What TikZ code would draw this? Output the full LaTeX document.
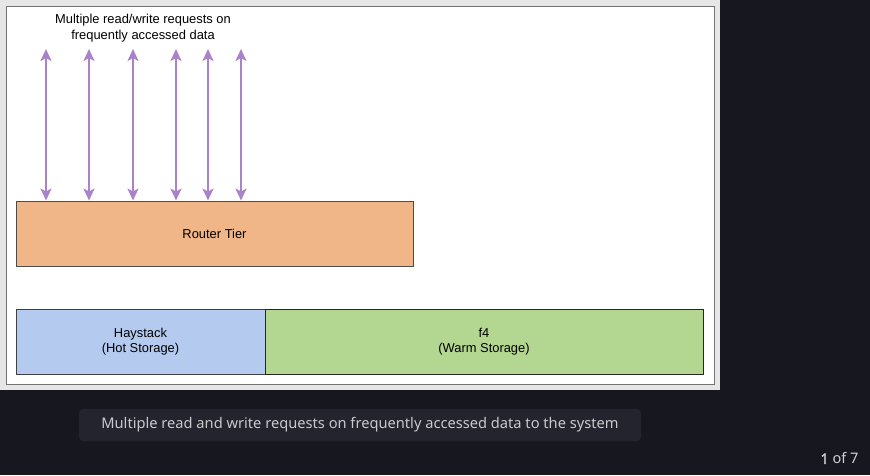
\documentclass[tikz,border=0pt]{standalone}
\usepackage{fontspec}
\setmainfont{Liberation Sans}
\newfontfamily\capfont{Noto Sans}
\newfontfamily\capbold{Noto Sans}[FakeBold=2]
\usetikzlibrary{arrows.meta}
\definecolor{darkbg}{HTML}{17171F}
\definecolor{capbg}{HTML}{23242E}
\definecolor{captext}{HTML}{C9C9CE}
\definecolor{panelgrey}{HTML}{E6E6E6}
\definecolor{routerfill}{HTML}{F0B687}
\definecolor{hotfill}{HTML}{B4CBEF}
\definecolor{warmfill}{HTML}{B3D690}
\definecolor{arrowpurple}{HTML}{A982C9}
\begin{document}
\begin{tikzpicture}[x=1pt,y=-1pt,
  box/.style={draw=#1, line width=1pt, inner sep=0pt, align=center, font=\fontsize{12.9}{15}\selectfont},
  req/.style={draw=arrowpurple, line width=2pt, {Stealth[length=12pt,width=11pt,inset=3pt]}-{Stealth[length=12pt,width=11pt,inset=3pt]}}
]
\useasboundingbox (0,0) rectangle (870,475);
\fill[darkbg] (0,0) rectangle (870,475);
\fill[panelgrey] (0,0) rectangle (720,390);
\draw[fill=white, draw=black!55, line width=1pt] (6.5,6.5) rectangle (714,384.5);
% title
\node[align=center, font=\fontsize{12.9}{16}\selectfont] (title) at (143,28.5) {Multiple read/write requests on\\frequently accessed data};
% router
\node[box=black!70, fill=routerfill, minimum width=397pt, minimum height=65pt] (router) at (214.5,233.5) {Router Tier};
% storage
\node[box=black!75, fill=hotfill, minimum width=249pt, minimum height=65pt] (hay) at (140.5,341.5) {Haystack\\(Hot Storage)};
\node[box=black!85, fill=warmfill, minimum width=438pt, minimum height=65pt] (f4) at (484,341.5) {f4\\(Warm Storage)};
% arrows
\foreach \i/\x in {1/46,2/89,3/133,4/176,5/208,6/241}{
  \coordinate (top\i) at (\x,49);
  \draw[req] (top\i) -- (router.north -| top\i);
}
% caption
\node[fill=capbg, rounded corners=4pt, minimum width=562pt, minimum height=32pt, inner sep=0pt,
  text=captext, font=\capfont\fontsize{14.65}{16}\selectfont] (cap) at (360,425) {Multiple read and write requests on frequently accessed data to the system};
\node[text=captext!85!white, anchor=east, font=\capfont\fontsize{14.5}{16}\selectfont] (page) at (862,458.5) {{\capbold 1} of 7};
\end{tikzpicture}
\end{document}
